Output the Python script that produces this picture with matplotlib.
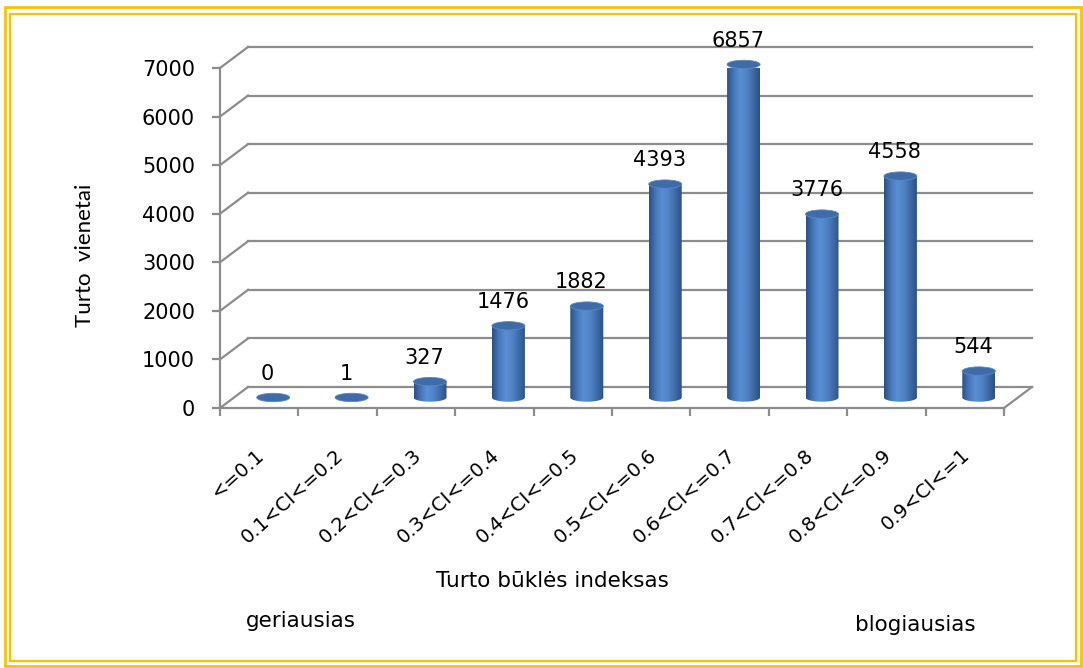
import matplotlib
matplotlib.use('Agg')
import matplotlib.pyplot as plt
import numpy as np
from matplotlib.patches import Ellipse, Rectangle
from matplotlib.path import Path
from matplotlib.patches import PathPatch
from matplotlib.colors import LinearSegmentedColormap

# Data
CATEGORIES = ['<=0.1', '0.1<CI<=0.2', '0.2<CI<=0.3', '0.3<CI<=0.4', '0.4<CI<=0.5',
              '0.5<CI<=0.6', '0.6<CI<=0.7', '0.7<CI<=0.8', '0.8<CI<=0.9', '0.9<CI<=1']
VALUES = [0, 1, 327, 1476, 1882, 4393, 6857, 3776, 4558, 544]
Y_TICKS = [0, 1000, 2000, 3000, 4000, 5000, 6000, 7000]

GRID = '#8C8C8C'
GOLD = '#FFC000'
TOP = '#3F6CA8'

plt.rcParams['font.family'] = ['DejaVu Sans']

W, H = 1083, 668
fig = plt.figure(figsize=(W / 100, H / 100), dpi=100)
fig.patch.set_facecolor('white')

# plot area in pixels (front plane)
left_px, right_px, top_px, bot_px = 220, 1004, 68, 408
ax = fig.add_axes([left_px / W, (H - bot_px) / H, (right_px - left_px) / W, (bot_px - top_px) / H])
ax.set_facecolor('none')

# depth offset of the pseudo-3D back wall (data units)
DX = 28 / 78.4
DY = 21 * 7000 / 340

# back wall gridlines and side wall diagonals
for v in Y_TICKS:
    ax.plot([DX, 10 + DX], [v + DY, v + DY], color=GRID, lw=1.6, clip_on=False, zorder=1)
    ax.plot([0, DX], [v, v + DY], color=GRID, lw=1.6, clip_on=False, zorder=1)
ax.plot([10, 10 + DX], [0, DY], color=GRID, lw=1.6, clip_on=False, zorder=1)

# cylinders
cmap = LinearSegmentedColormap.from_list('cyl', ['#2B5184', '#4677BA', '#5A8ED3', '#5083C6', '#3E6BA8', '#2C5185'])
grad = np.linspace(0, 1, 64).reshape(1, -1)
a = 16.5 / 78.4
b = 4.2 * 7000 / 340
t = np.linspace(np.pi, 2 * np.pi, 40)
for i, v in enumerate(VALUES):
    cx = i + 0.5 + DX / 2
    y0 = DY / 2
    y1 = v + DY / 2
    if v >= 100:
        xs = np.concatenate([[cx - a, cx - a], cx + a * np.cos(t), [cx + a, cx - a]])
        ys = np.concatenate([[y1, y0], y0 + b * np.sin(t), [y1, y1]])
        body = PathPatch(Path(np.column_stack([xs, ys])), facecolor='none', edgecolor='none')
        ax.add_patch(body)
        im = ax.imshow(grad, cmap=cmap, aspect='auto', extent=[cx - a, cx + a, y0 - b, y1],
                       zorder=3, interpolation='bilinear')
        im.set_clip_path(body)
        im.set_clip_box(None)
    ax.add_patch(Ellipse((cx, y1), 2 * a, 2 * b, angle=0, facecolor=TOP,
                         edgecolor='#5B88C4', lw=0.6, zorder=4, clip_on=False))
    ax.annotate(str(v), (cx, y1 + b), xytext=(-4, 7), textcoords='offset points',
                ha='center', va='bottom', fontsize=15, color='black', zorder=5,
                annotation_clip=False)

ax.set_xlim(0, 10)
ax.set_ylim(0, 7000)

# axes styling
for s in ['top', 'right']:
    ax.spines[s].set_visible(False)
for s in ['left', 'bottom']:
    ax.spines[s].set_color(GRID)
    ax.spines[s].set_linewidth(1.6)
ax.set_yticks(Y_TICKS)
ax.set_yticklabels([str(v) for v in Y_TICKS], fontsize=15)
ax.set_xticks(range(11))
ax.set_xticklabels([])
ax.tick_params(axis='both', direction='out', length=6, width=1.6, color=GRID)
ax.tick_params(axis='y', pad=12)

for i, c in enumerate(CATEGORIES):
    ax.annotate(c, (i + 0.5, 0), xytext=(2, -32), textcoords='offset points',
                rotation=42, rotation_mode='anchor', ha='right', va='center', fontsize=14)

fig.text(85 / W, 1 - 255 / H, 'Turto  vienetai', rotation=90, ha='center', va='center',
         fontsize=16, family=['Lato', 'DejaVu Sans'])
fig.text(552 / W, 1 - 581 / H, 'Turto būklės indeksas', ha='center', va='center', fontsize=15.5)
fig.text(301 / W, 1 - 621 / H, 'geriausias', ha='center', va='center', fontsize=15.5)
fig.text(915 / W, 1 - 625 / H, 'blogiausias', ha='center', va='center', fontsize=15.5)

# double gold frame
fig.add_artist(Rectangle((5 / W, 1 - 666 / H), 1076 / W, 659 / H, transform=fig.transFigure,
                         fill=False, edgecolor=GOLD, lw=2))
fig.add_artist(Rectangle((10 / W, 1 - 661 / H), 1066 / W, 647 / H, transform=fig.transFigure,
                         fill=False, edgecolor=GOLD, lw=1.6))

fig.savefig('out.png', dpi=100, facecolor='white')
